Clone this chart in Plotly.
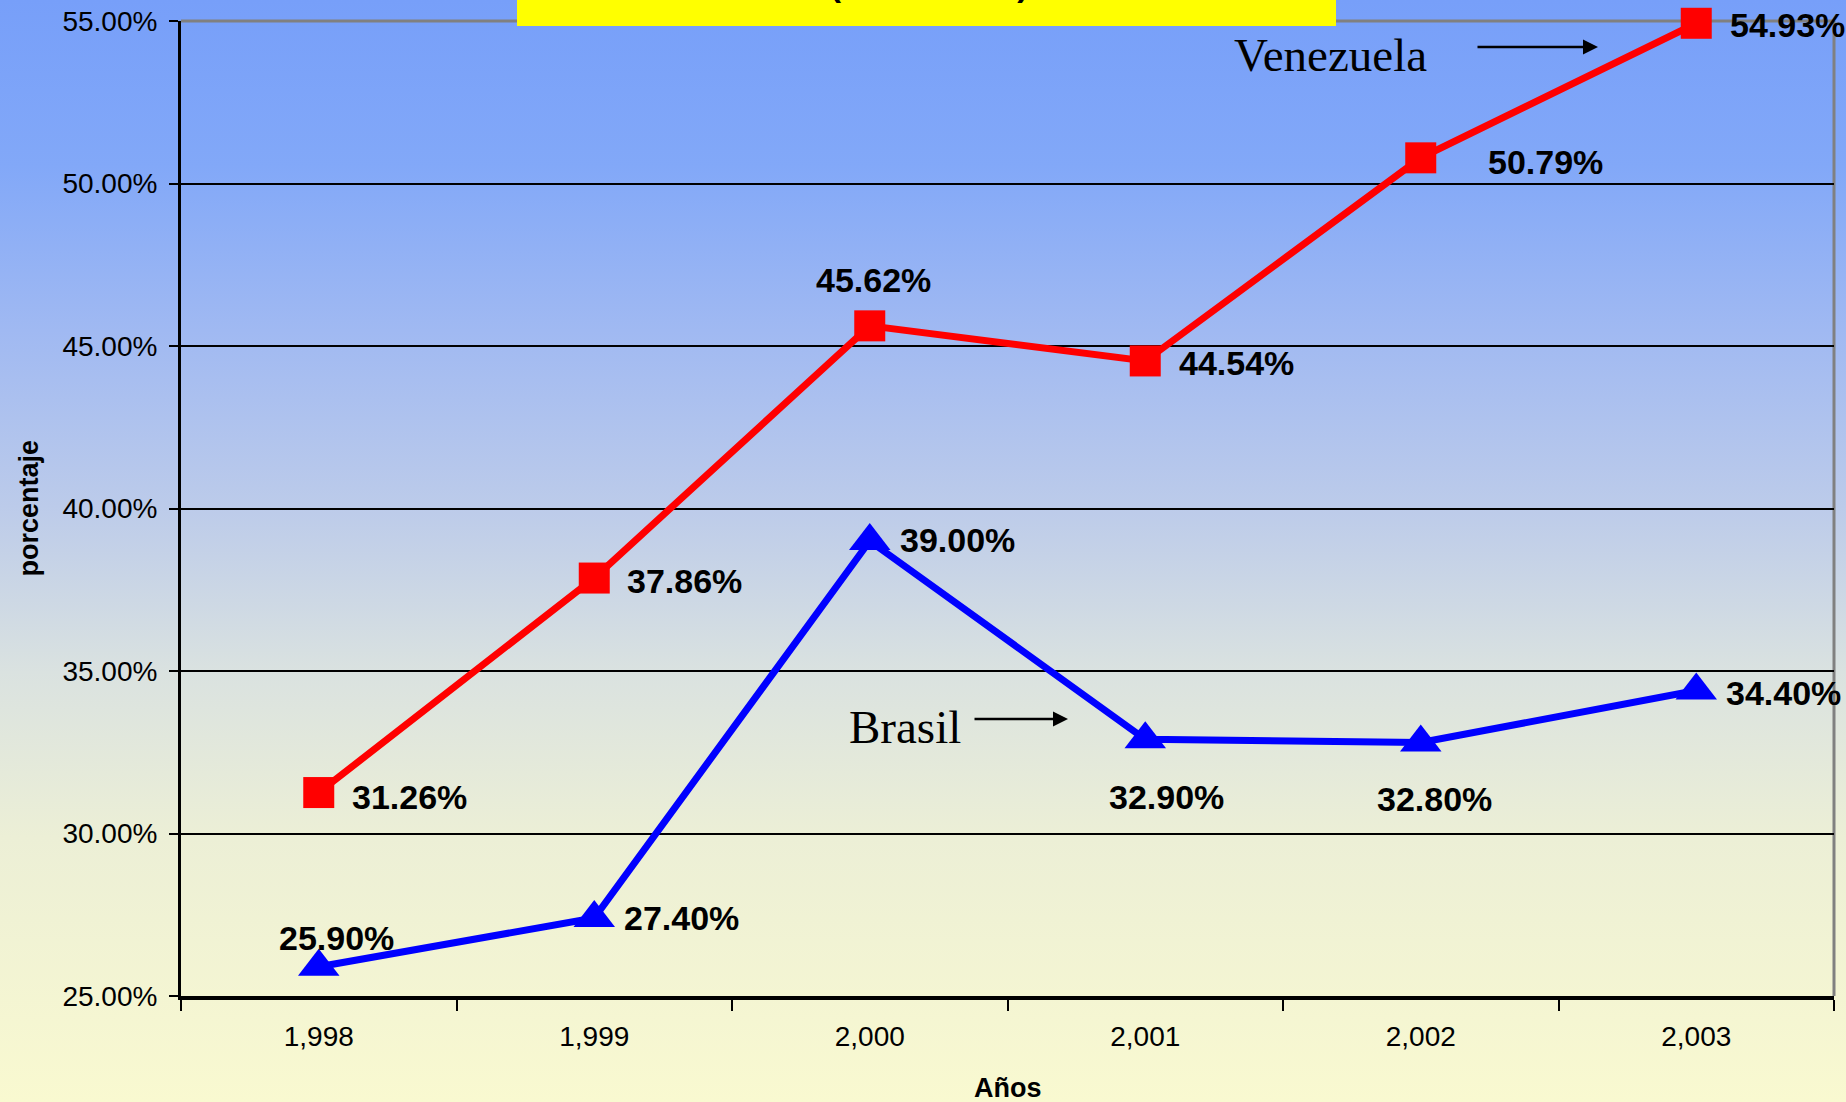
import base64
import plotly.graph_objects as go

# ---- data ----
years = ["1,998", "1,999", "2,000", "2,001", "2,002", "2,003"]
venezuela = [31.26, 37.86, 45.62, 44.54, 50.79, 54.93]
brasil = [25.90, 27.40, 39.00, 32.90, 32.80, 34.40]
title_text = "(1998 - 2003)"
y_title = "porcentaje"
x_title = "Años"

# ---- styling ----
W, H = 1846, 1102
L, R, T, B = 181, 12, 21, 106
PW, PH = W - L - R, H - T - B

FONT = "Liberation Sans, Arial, sans-serif"
SERIF = "Liberation Serif, Times New Roman, serif"

def px_x(px):
    return (px - L) / PW

def px_y(py):
    return (H - B - py) / PH

# background gradient as inline SVG image
stops = [
    (0.00, "#779ff9"), (0.15, "#82a8f8"), (0.30, "#a0b9f2"),
    (0.46, "#bccbea"), (0.61, "#dae2e0"), (0.76, "#ecefd6"), (1.00, "#f9f9d0"),
]
stop_xml = "".join(f'<stop offset="{o}" stop-color="{c}"/>' for o, c in stops)
svg = (f'<svg xmlns="http://www.w3.org/2000/svg" width="{W}" height="{H}">'
       f'<defs><linearGradient id="g" x1="0" y1="0" x2="0" y2="1">{stop_xml}</linearGradient></defs>'
       f'<rect width="{W}" height="{H}" fill="url(#g)"/></svg>')
bg_src = "data:image/svg+xml;base64," + base64.b64encode(svg.encode()).decode()

fig = go.Figure()
fig.add_trace(go.Scatter(
    x=years, y=venezuela, mode="lines+markers", name="Venezuela",
    line=dict(color="#ff0000", width=7),
    marker=dict(symbol="square", size=31, color="#ff0000"),
    cliponaxis=False, showlegend=False,
))
fig.add_trace(go.Scatter(
    x=years, y=brasil, mode="lines+markers", name="Brasil",
    line=dict(color="#0000ff", width=7),
    marker=dict(symbol="triangle-up", size=36, color="#0000ff"),
    cliponaxis=False, showlegend=False,
))

annotations = []
ven_off = [(31, -4, "left"), (31, -3, "left"), (4, 46, "center"),
           (32, -2, "left"), (65, -4, "left"), (32, -2, "left")]
bra_off = [(18, 29, "center"), (28, 0, "left"), (28, 1, "left"),
           (21, -58, "center"), (14, -56, "center"), (28, -2, "left")]
for series, offs in ((venezuela, ven_off), (brasil, bra_off)):
    for i, (v, (dx, dy, anc)) in enumerate(zip(series, offs)):
        annotations.append(dict(
            x=i, y=v, xref="x", yref="y", text=f"<b>{v:.2f}%</b>",
            showarrow=False, xanchor=anc, yanchor="middle",
            xshift=dx, yshift=dy,
            font=dict(family=FONT, size=34, color="black"),
        ))

# series name labels with arrows
annotations += [
    dict(xref="paper", yref="paper", x=px_x(1232), y=px_y(55), text="Venezuela",
         showarrow=False, xanchor="left", yanchor="middle",
         font=dict(family=SERIF, size=47, color="black")),
    dict(xref="paper", yref="paper", x=px_x(1598), y=px_y(47), ax=-122, ay=0,
         text="", showarrow=True, arrowhead=2, arrowsize=1.2, arrowwidth=2.5,
         arrowcolor="black"),
    dict(xref="paper", yref="paper", x=px_x(847), y=px_y(727), text="Brasil",
         showarrow=False, xanchor="left", yanchor="middle",
         font=dict(family=SERIF, size=47, color="black")),
    dict(xref="paper", yref="paper", x=px_x(1068), y=px_y(719), ax=-95, ay=0,
         text="", showarrow=True, arrowhead=2, arrowsize=1.2, arrowwidth=2.5,
         arrowcolor="black"),
    # title (cut off at the top)
    dict(xref="paper", yref="paper", x=px_x(929), y=px_y(5), text=f"<b>{title_text}</b>",
         showarrow=False, xanchor="center", yanchor="bottom",
         font=dict(family=FONT, size=33, color="black")),
    # axis titles
    dict(xref="paper", yref="paper", x=px_x(28), y=0.5, text=f"<b>{y_title}</b>",
         textangle=-90, showarrow=False, xanchor="center", yanchor="middle",
         font=dict(family=FONT, size=27, color="black")),
    dict(xref="paper", yref="paper", x=0.5, y=px_y(1088), text=f"<b>{x_title}</b>",
         showarrow=False, xanchor="center", yanchor="middle",
         font=dict(family=FONT, size=27, color="black")),
]

shapes = [
    dict(type="line", xref="paper", yref="paper", x0=0, x1=1, y0=1, y1=1,
         line=dict(color="#808080", width=3), layer="between"),
    dict(type="line", xref="paper", yref="paper", x0=1, x1=1, y0=0, y1=1,
         line=dict(color="#808080", width=3), layer="between"),
    dict(type="rect", xref="paper", yref="paper", x0=px_x(517), x1=px_x(1336),
         y0=px_y(26), y1=px_y(-10), fillcolor="#ffff00", line=dict(width=0),
         layer="above"),
]

fig.update_layout(
    width=W, height=H,
    margin=dict(l=L, r=R, t=T, b=B, autoexpand=False),
    paper_bgcolor="rgba(0,0,0,0)", plot_bgcolor="rgba(0,0,0,0)",
    font=dict(family=FONT, color="black"),
    annotations=annotations, shapes=shapes,
    images=[dict(source=bg_src, xref="paper", yref="paper",
                 x=px_x(0), y=px_y(0), sizex=W / PW, sizey=H / PH,
                 xanchor="left", yanchor="top", sizing="stretch", layer="below")],
    xaxis=dict(
        type="category", range=[-0.5, 5.5], showgrid=False, automargin=False,
        tickson="boundaries", ticks="outside", ticklen=11, tickwidth=2,
        tickcolor="black", showline=True, linecolor="black", linewidth=4,
        tickfont=dict(family=FONT, size=28, color="black"),
        ticklabelstandoff=12, zeroline=False,
    ),
    yaxis=dict(
        range=[25, 55], dtick=5, tickformat=".2f", ticksuffix="%", automargin=False,
        showgrid=True, gridcolor="black", gridwidth=2,
        ticks="outside", ticklen=9, tickwidth=2, tickcolor="black",
        showline=True, linecolor="black", linewidth=3, zeroline=False,
        tickfont=dict(family=FONT, size=28, color="black"),
        ticklabelstandoff=6,
    ),
)

fig.write_html(
    "out.html",
    config={"displayModeBar": False},
    post_script="document.body.style.margin='0';document.body.style.overflow='hidden';",
)
